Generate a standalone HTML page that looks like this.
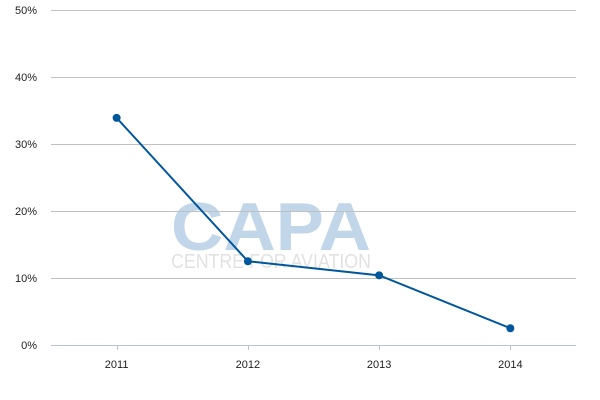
<!DOCTYPE html>
<html><head><meta charset="utf-8"><style>
body{margin:0;background:#fff;}
svg{display:block;font-family:"Liberation Sans",sans-serif;}
</style></head><body>
<svg id="chart" width="600" height="400">
<g>
<text x="271" y="250" text-anchor="middle" font-size="68" font-weight="bold" fill="#c2d6ea" textLength="200" lengthAdjust="spacingAndGlyphs">CAPA</text>
<text x="271" y="268" text-anchor="middle" font-size="20" fill="#e2e2e2" textLength="200" lengthAdjust="spacingAndGlyphs">CENTRE FOR AVIATION</text>
</g>
<g id="grid"></g>
<g id="yaxis"></g>
<g id="xaxis"></g>
<g id="series"></g>
</svg>
<script>
const categories=["2011","2012","2013","2014"];
const values=[33.9,12.5,10.4,2.5];
const yTicks=[0,10,20,30,40,50];
const yTickLabels=["0%","10%","20%","30%","40%","50%"];
const NS="http://www.w3.org/2000/svg";
const L=51,R=576,T=10,B=345,yMax=50;
const band=(R-L)/categories.length;
const x=i=>L+band*(i+0.5);
const y=v=>B-(v/yMax)*(B-T);
function mk(tag,attrs,parent){const e=document.createElementNS(NS,tag);for(const k in attrs)e.setAttribute(k,attrs[k]);parent.appendChild(e);return e;}
const grid=document.getElementById('grid'),ya=document.getElementById('yaxis'),xa=document.getElementById('xaxis'),s=document.getElementById('series');
yTicks.forEach((t,i)=>{
 const ln=mk('line',{x1:L,x2:R,y1:y(t)+0.5,y2:y(t)+0.5,stroke:t===0?'#b8c4d6':'#c0c0c0','stroke-width':1},grid);
 
 
 const tx=mk('text',{x:37,y:y(t)+4,'text-anchor':'end','font-size':11,fill:'#222'},ya);
 tx.textContent=yTickLabels[i];
 
 
});
categories.forEach((c,i)=>{
 const tk=mk('line',{x1:Math.round(x(i))+0.5,x2:Math.round(x(i))+0.5,y1:B,y2:B+5,stroke:'#b8c4d6'},xa);
 
 
 const tx=mk('text',{x:x(i),y:B+23,'text-anchor':'middle','font-size':11,fill:'#222'},xa);
 tx.textContent=c;
 
 
});
const pts=values.map((v,i)=>x(i)+','+y(v)).join(' ');
const pl=mk('polyline',{points:pts,fill:'none',stroke:'#00579c','stroke-width':2},s);


values.forEach((v,i)=>{
 const c=mk('circle',{cx:x(i),cy:y(v),r:4,fill:'#00579c'},s);
 
 
});
</script>
</body></html>
